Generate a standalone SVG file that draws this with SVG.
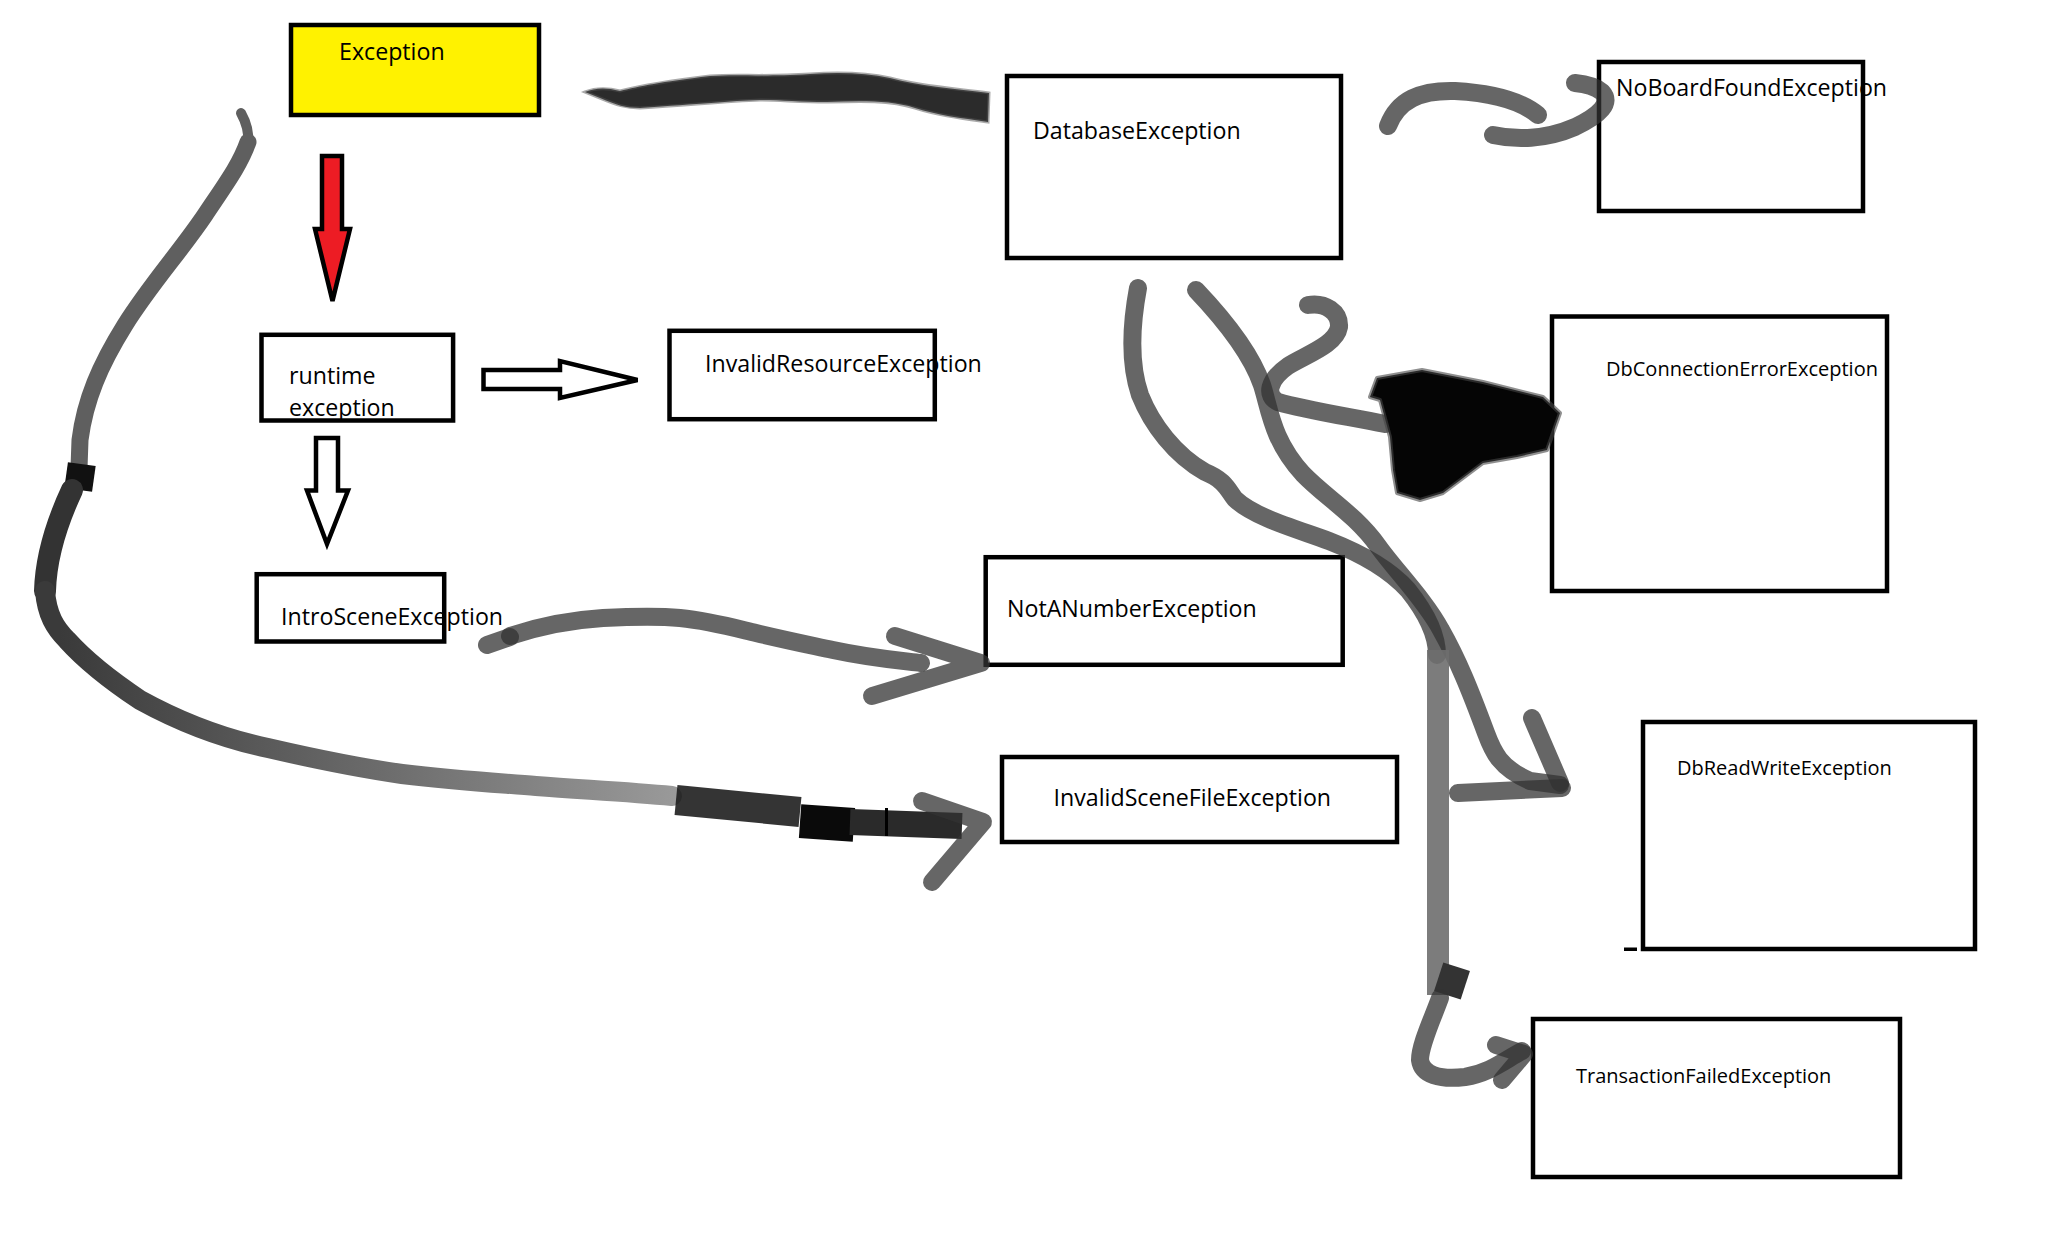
<svg xmlns="http://www.w3.org/2000/svg" width="2070" height="1247" viewBox="0 0 2070 1247">
<style>
.box{fill:none;stroke:#000;stroke-width:4.5}
.lbl{font-family:"Open Sans","Noto Sans","Liberation Sans",sans-serif;font-size:23.2px;fill:#000}
.sm{font-size:20px}
.brush{fill:none;stroke:#333;stroke-opacity:0.75;stroke-linecap:round;stroke-linejoin:round;stroke-width:18}
.hollow{fill:#fff;stroke:#000;stroke-width:4.5;stroke-linejoin:miter}
</style>
<defs>
<linearGradient id="lowg" gradientUnits="userSpaceOnUse" x1="60" y1="0" x2="680" y2="0">
<stop offset="0" stop-color="#3a3a3a"/>
<stop offset="0.5" stop-color="#6a6a6a"/>
<stop offset="1" stop-color="#9a9a9a"/>
</linearGradient>
</defs>
<rect width="2070" height="1247" fill="#fff"/>

<g id="node-exception">
<rect x="291" y="25" width="248" height="90" fill="#fff200" stroke="#000" stroke-width="4.5"/>
<text class="lbl" x="339" y="60">Exception</text>
</g>
<g id="node-runtime">
<rect class="box" x="261.5" y="334.8" width="191.6" height="85.7"/>
<text class="lbl" x="289" y="383.5">runtime</text>
<text class="lbl" x="289" y="416">exception</text>
</g>
<g id="node-invalidresource">
<rect class="box" x="669.5" y="330.8" width="265.3" height="88.4"/>
<text class="lbl" x="705" y="372">InvalidResourceException</text>
</g>
<g id="node-introscene">
<rect class="box" x="256.7" y="574.2" width="187.5" height="67.3"/>
<text class="lbl" x="281" y="624.5">IntroSceneException</text>
</g>
<g id="node-database">
<rect class="box" x="1007" y="76" width="334" height="182"/>
<text class="lbl" x="1033" y="139">DatabaseException</text>
</g>
<g id="node-noboard">
<rect class="box" x="1599" y="62" width="264" height="149"/>
<text class="lbl" x="1616" y="96">NoBoardFoundException</text>
</g>
<g id="node-dbconnection">
<rect class="box" x="1552" y="316.5" width="335" height="274.5"/>
<text class="lbl sm" x="1606" y="376">DbConnectionErrorException</text>
</g>
<g id="node-notanumber">
<rect class="box" x="985.7" y="557.2" width="357" height="107.6"/>
<text class="lbl" x="1007" y="617">NotANumberException</text>
</g>
<g id="node-invalidscenefile">
<rect class="box" x="1002" y="757" width="395" height="85"/>
<text class="lbl" x="1053.6" y="805.5">InvalidSceneFileException</text>
</g>
<g id="node-dbreadwrite">
<rect class="box" x="1643" y="722" width="332" height="227"/>
<text class="lbl sm" x="1677" y="775">DbReadWriteException</text>
<rect x="1624" y="947.5" width="13" height="3.5" fill="#000"/>
</g>
<g id="node-transactionfailed">
<rect class="box" x="1533" y="1019" width="367" height="158"/>
<text class="lbl sm" x="1576" y="1083">TransactionFailedException</text>
</g>

<g id="connectors">
<!-- Exception -> runtime (red) -->
<polygon points="322,156 342,156 342,229 350,229 332.5,301 315,229 322,229" fill="#ed1c24" stroke="#000" stroke-width="4.5"/>
<!-- runtime -> InvalidResource (hollow) -->
<polygon class="hollow" points="483.5,370 560,370 560,361 637.5,380 560,398 560,389 483.5,389"/>
<!-- runtime -> IntroScene (hollow) -->
<polygon class="hollow" points="316,438 338,438 338,490.6 348,490.6 327,544 307,490.6 316,490.6"/>

<!-- Exception -> Database -->
<path d="M585,92 C595,88 605,87 620,91 C640,86 660,82 710,76 C740,74 760,77 810,74 C840,72 867,73 890,78 C920,86 950,88 989,93 L988,122 C960,118 937,115 915,108 C890,100 860,101 827,102 C800,102 780,100 760,100 C730,101 700,104 640,108 C625,108 617,105 600,98 Z" fill="#2b2b2b" stroke="#555" stroke-opacity="0.5" stroke-width="3"/>

<!-- Database -> NoBoardFound -->
<path class="brush" stroke-width="17" d="M1388,126 C1398,100 1420,90 1455,91 C1490,93 1520,100 1538,115"/>
<path class="brush" stroke-width="17" d="M1493,135 C1515,140 1545,140 1575,127 C1600,115 1612,103 1602,92 C1595,86 1585,84 1575,83"/>

<!-- Database -> DbConnection -->
<path class="brush" stroke-width="17" d="M1308,305 C1325,302 1340,312 1339,327 C1336,345 1305,355 1288,366 C1268,380 1265,396 1278,402 C1305,410 1345,416 1385,424"/>
<polygon points="1377,378 1422,370 1483,382 1543,397 1560,413 1553,433 1547,450 1517,457 1483,463 1443,493 1420,500 1397,493 1393,470 1390,437 1380,400 1370,397" fill="#050505" stroke="#444" stroke-opacity="0.6" stroke-width="4" stroke-linejoin="round"/>

<!-- Database -> DbReadWrite -->
<path class="brush" d="M1196,290 C1215,310 1250,350 1262,385 C1270,410 1272,440 1303,474 C1325,497 1355,514 1378,546 C1395,570 1425,600 1441,630 C1458,660 1470,690 1486,733 C1493,752 1500,768 1530,781 L1560,785"/>
<path class="brush" stroke-width="12" d="M1560,783 L1532,718"/>
<path class="brush" stroke-width="20" d="M1562,788 L1458,793"/>

<!-- Database -> TransactionFailed -->
<path class="brush" d="M1138,288 C1132,320 1128,360 1140,395 C1152,425 1175,455 1205,472 C1225,480 1228,490 1235,499 C1255,518 1300,530 1329,541 C1360,553 1390,570 1408,590 C1428,615 1437,635 1437,655"/>
<path fill="none" stroke="#6e6e6e" stroke-opacity="0.9" stroke-width="22" d="M1438,650 L1438,995"/>
<rect x="1438" y="966" width="28" height="30" fill="#333" transform="rotate(18 1452 981)"/>
<path class="brush" stroke="#666" stroke-width="16" d="M1440,998 C1432,1020 1420,1045 1420,1060 C1422,1075 1440,1080 1465,1077 C1490,1073 1505,1060 1522,1051"/>
<path class="brush" stroke-width="10" d="M1496,1045 L1524,1054 L1502,1080"/>

<!-- Exception -> InvalidSceneFile (long left curve) -->
<path fill="none" stroke="#5f5f5f" stroke-linecap="round" stroke-width="10" d="M241,113 C246,122 249,132 248,142"/>
<path fill="none" stroke="#5f5f5f" stroke-linecap="round" stroke-width="17" d="M248,142 C240,165 225,185 205,215 C180,252 150,285 125,325 C100,365 85,400 80,440 L79,468"/>
<rect x="66" y="464" width="28" height="26" fill="#111" transform="rotate(8 80 477)"/>
<path fill="none" stroke="#333" stroke-width="22" stroke-linecap="round" d="M72,490 C58,520 46,555 45,591"/>
<path fill="none" stroke="url(#lowg)" stroke-width="20" stroke-linecap="round" d="M45,591 C47,615 55,628 67,640 C85,660 110,680 140,700 C180,722 220,738 268,748 C320,760 360,768 402,774 C460,781 500,783 536,786 C590,790 630,792 672,796"/>
<path fill="none" stroke="#1e1e1e" stroke-opacity="0.9" stroke-width="30" d="M676,800 L800,812"/>
<rect x="800" y="806" width="54" height="34" fill="#0a0a0a" transform="rotate(4 827 823)"/>
<path fill="none" stroke="#2a2a2a" stroke-width="26" d="M850,822 L962,826"/>
<rect x="885" y="808" width="3" height="28" fill="#000"/>
<path class="brush" stroke-width="15" d="M922,801 L983,822 L932,882"/>

<!-- IntroScene -> NotANumber -->
<path class="brush" stroke-width="9" d="M487,645 L510,637"/>
<path class="brush" stroke-width="19" d="M510,636 C540,626 570,620 603,618 C640,616 660,616 680,618 C710,621 735,628 756,633 C790,641 810,645 833,650 C870,658 895,660 921,663"/>
<path class="brush" stroke-width="16" d="M895,636 L981,663 L872,696"/>
</g>
</svg>
